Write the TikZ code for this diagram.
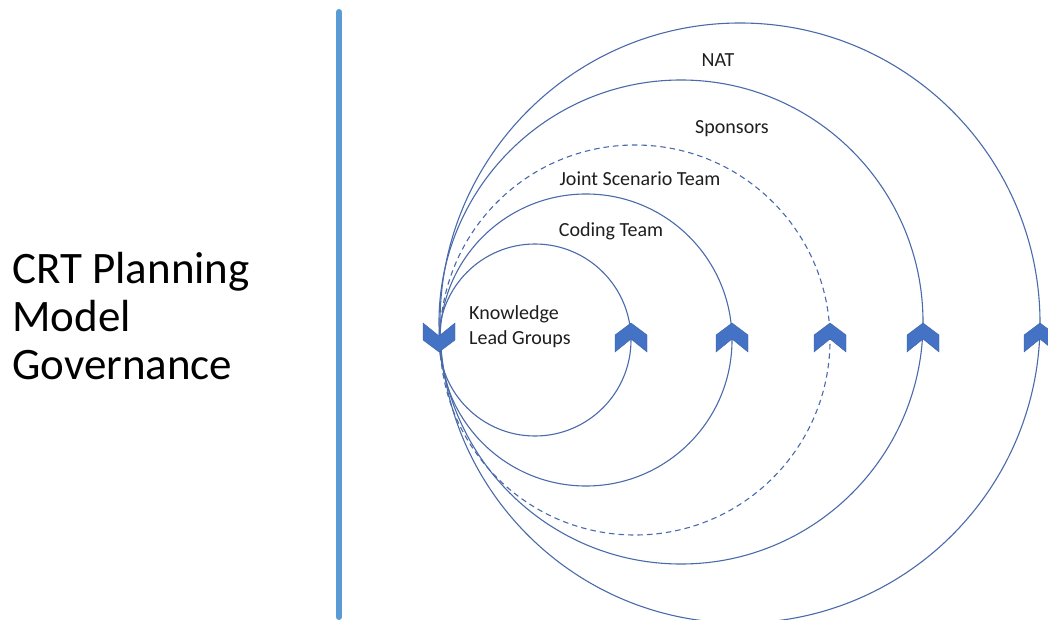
\documentclass[tikz,border=0pt]{standalone}
\usepackage{fontspec}
\setmainfont{Carlito}
\definecolor{lineblue}{HTML}{4A6BAA}
\definecolor{arrowblue}{HTML}{4472C4}
\definecolor{barblue}{HTML}{5B9BD5}
\definecolor{lbltext}{HTML}{1E1E1E}
\tikzset{
  ring/.style={circle, draw=lineblue, line width=1.1pt, inner sep=0pt, outer sep=0pt},
  ringdash/.style={ring, dash pattern=on 5.5pt off 4pt},
  lbl/.style={font=\fontsize{20}{25}\selectfont, text=lbltext, inner sep=0pt},
  bigtext/.style={font=\fontsize{45}{48}\selectfont, inner sep=0pt, anchor=base west},
  bar/.style={draw=barblue, line width=6pt, line cap=round},
  chev/.style={fill=arrowblue, draw=arrowblue!85!black, line width=0.4pt},
  chevup/.pic={\path[chev] (0,-17) -- (16,-5) -- (16,12) -- (0,-1) -- (-16,12) -- (-16,-5) -- cycle;},
  chevdown/.pic={\path[chev] (0,12) -- (16,0) -- (16,-17) -- (0,-4) -- (-16,-17) -- (-16,0) -- cycle;},
}
\begin{document}
\begin{tikzpicture}[x=1pt,y=-1pt]
\useasboundingbox (0,0) rectangle (1048,620);
\clip (0,0) rectangle (1048,620);
\fill[white] (0,0) rectangle (1048,620);

% vertical bar
\coordinate (bt) at (339,12);
\coordinate (bb) at (339,617);
\draw[bar] (bt) -- (bb);

% title
\node[bigtext] (t1) at (12,283) {CRT Planning};
\node[bigtext] (t2) at (12,331) {Model};
\node[bigtext] (t3) at (12,379) {Governance};

% rings
\node[ring, minimum size=192pt] (kl) at (535,340) {};
\node[ring, minimum size=292pt] (ct) at (586,340) {};
\node[ringdash, minimum size=390pt] (jst) at (635,340) {};
\node[ring, minimum size=484pt] (sp) at (681,322) {};
\node[ring, minimum size=600pt] (nat) at (740,323) {};

% labels
\node[lbl] (natl) at (718,60) {NAT};
\node[lbl] (spl) at (732,129) {Sponsors};
\node[lbl] (jstl) at (640,179) {Joint Scenario Team};
\node[lbl] (ctl) at (611,231) {Coding Team};
\node[lbl, align=left, anchor=west] (kll) at (469,327) {Knowledge\\Lead Groups};

% chevrons
\pic at (kl.west) {chevdown};
\pic at (kl.east) {chevup};
\pic at (ct.east) {chevup};
\pic at (jst.east) {chevup};
\pic at (sp.east |- kl.center) {chevup};
\pic at (nat.east |- kl.center) {chevup};
\end{tikzpicture}
\end{document}
